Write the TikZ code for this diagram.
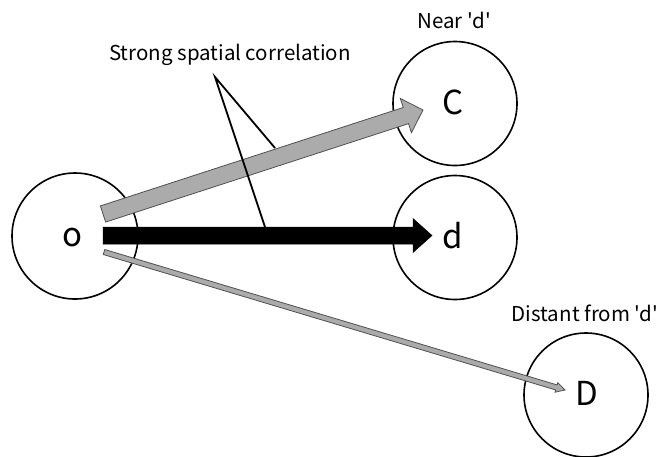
\documentclass[tikz,border=0pt]{standalone}
\usepackage{fontspec}
\setmainfont{Noto Sans CJK JP}[Ligatures=TeXOff]
\usetikzlibrary{calc}

\definecolor{arrowgray}{HTML}{ABABAB}
\definecolor{edgegray}{HTML}{505050}

% Block arrow from #2 to #3: #1 style, #4 half shaft width, #5 half head width, #6 head length
\newcommand\blockarrow[6]{%
  \path[#1]
    ($(#2)!#4!90:(#3)$) --
    ($($(#3)!#6!(#2)$)!#4!90:(#3)$) --
    ($($(#3)!#6!(#2)$)!#5!90:(#3)$) --
    (#3) --
    ($($(#3)!#6!(#2)$)!#5!-90:(#3)$) --
    ($($(#3)!#6!(#2)$)!#4!-90:(#3)$) --
    ($(#2)!#4!-90:(#3)$) -- cycle;
}

\begin{document}
\begin{tikzpicture}[x=1pt,y=-1pt,
  place/.style={circle,draw=black,line width=1.6pt,minimum size=124pt,inner sep=0pt},
  letter/.style={inner sep=0pt,font=\fontsize{33}{33}\selectfont},
  caption/.style={font=\fontsize{20.5}{20.5}\selectfont,inner sep=0pt},
  grayarrow/.style={fill=arrowgray,draw=edgegray,line width=0.8pt,line join=miter},
  blackarrow/.style={fill=black,draw=black,line width=0.5pt},
  callout/.style={draw=black,line width=1.8pt}]
  \useasboundingbox (0,0) rectangle (663,456);

  % places
  \node[place,minimum size=126pt] (o) at (75,236) {};
  \node[place] (C) at (455,103.5) {};
  \node[place] (d) at (455,237.5) {};
  \node[place] (D) at (586,395) {};
  \node[letter] (olab) at (72,238) {o};
  \node[letter] (Clab) at (453,102) {C};
  \node[letter] (dlab) at (453,236) {d};
  \node[letter] (Dlab) at (587,393) {D};

  % captions
  \node[caption] (near) at (454,20) {Near 'd'};
  \node[caption] (far) at (585,313) {Distant from 'd'};
  \node[caption] (corr) at (230,55) {Strong spatial correlation};

  % arrow end points
  \coordinate (tailC) at (103,214);
  \coordinate (tipC) at (423,110);
  \coordinate (taild) at (103,235.5);
  \coordinate (tipd) at (432,235.5);
  \coordinate (tailD) at (104,252);
  \coordinate (tipD) at (565,390);

  % flows out of o
  \blockarrow{grayarrow}{tailC}{tipC}{8.5pt}{18pt}{18pt}
  \blockarrow{blackarrow}{taild}{tipd}{8.5pt}{17pt}{19pt}
  \blockarrow{grayarrow}{tailD}{tipD}{2.6pt}{5pt}{9pt}

  % callout lines
  \coordinate (apex) at (215,77);
  \coordinate (hitC) at (275,148);
  \coordinate (hitd) at (265,227);
  \draw[callout] (hitC) -- (apex) -- (hitd);
\end{tikzpicture}
\end{document}
